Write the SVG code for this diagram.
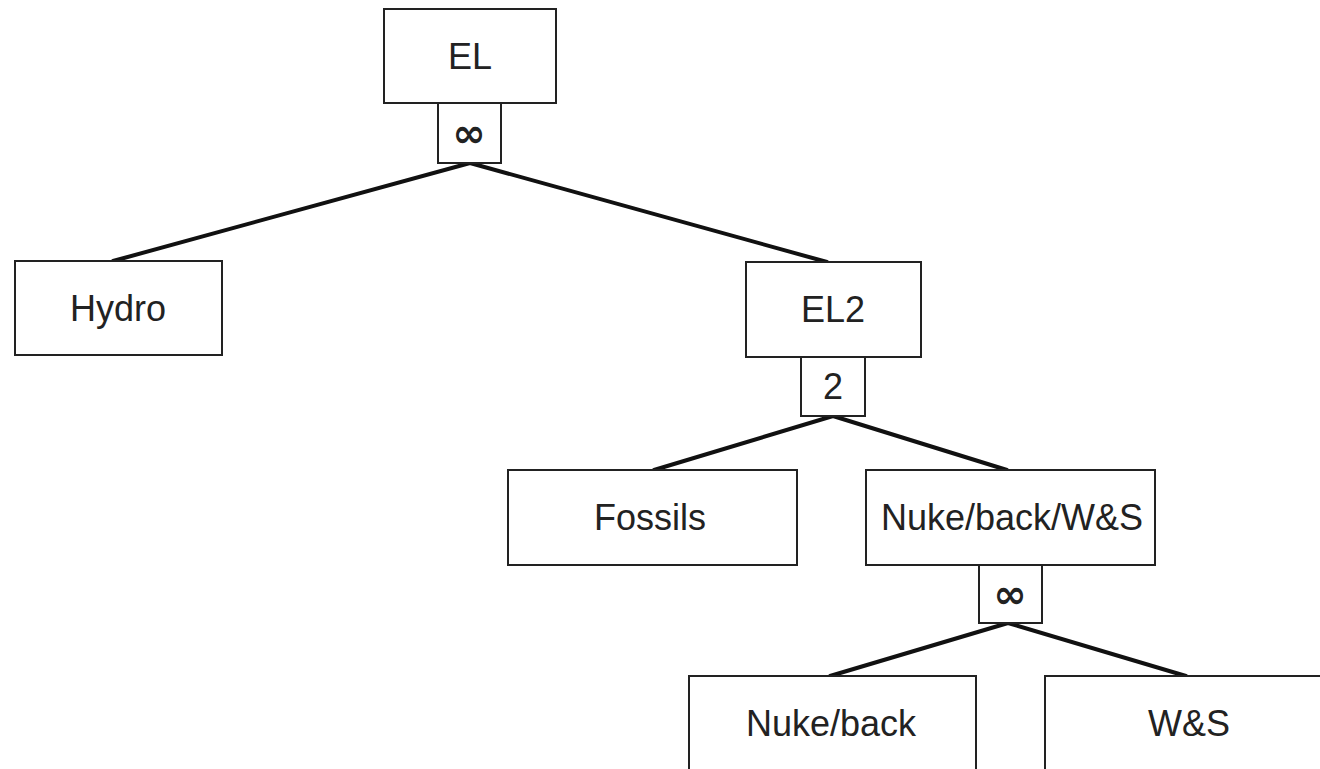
<svg xmlns="http://www.w3.org/2000/svg" width="1320" height="769" viewBox="0 0 1320 769">
<style>
.box{fill:#fff;stroke:#222;stroke-width:2}
.lbl{font-family:"Liberation Sans",Arial,sans-serif;font-size:36px;fill:#222;text-anchor:middle}
.sym{font-family:"DejaVu Sans","Liberation Sans",sans-serif;font-size:40px;font-weight:bold;fill:#222;text-anchor:middle}
.edge{stroke:#111;stroke-width:4;fill:none;stroke-linecap:round}
</style>
<rect width="1320" height="769" fill="#fff"/>
<g id="connectors">
<line class="edge" x1="470" y1="163" x2="113" y2="261"/>
<line class="edge" x1="470" y1="163" x2="827" y2="262"/>
<line class="edge" x1="833" y1="416" x2="654" y2="470"/>
<line class="edge" x1="833" y1="416" x2="1007" y2="470"/>
<line class="edge" x1="1008" y1="623" x2="830" y2="676"/>
<line class="edge" x1="1008" y1="623" x2="1186" y2="676"/>
</g>
<g id="n-EL">
<rect class="box" x="384" y="9" width="172" height="94"/>
<text class="lbl" x="470" y="69">EL</text>
</g>
<g id="c-EL">
<rect class="box" x="438" y="103" width="63" height="60"/>
<text class="sym" x="469" y="147">∞</text>
</g>
<g id="n-Hydro">
<rect class="box" x="15" y="261" width="207" height="94"/>
<text class="lbl" x="118" y="321">Hydro</text>
</g>
<g id="n-EL2">
<rect class="box" x="746" y="262" width="175" height="95"/>
<text class="lbl" x="833" y="322">EL2</text>
</g>
<g id="c-EL2">
<rect class="box" x="801" y="357" width="64" height="59"/>
<text class="lbl" x="833" y="399">2</text>
</g>
<g id="n-Fossils">
<rect class="box" x="508" y="470" width="289" height="95"/>
<text class="lbl" x="650" y="530">Fossils</text>
</g>
<g id="n-NBWS">
<rect class="box" x="866" y="470" width="289" height="95"/>
<text class="lbl" x="1012" y="530">Nuke/back/W&amp;S</text>
</g>
<g id="c-NBWS">
<rect class="box" x="979" y="565" width="63" height="58"/>
<text class="sym" x="1010" y="608">∞</text>
</g>
<g id="n-NukeBack">
<rect class="box" x="689" y="676" width="287" height="110"/>
<text class="lbl" x="831" y="736">Nuke/back</text>
</g>
<g id="n-WS">
<rect class="box" x="1045" y="676" width="290" height="110"/>
<text class="lbl" x="1189" y="736">W&amp;S</text>
</g>
</svg>
